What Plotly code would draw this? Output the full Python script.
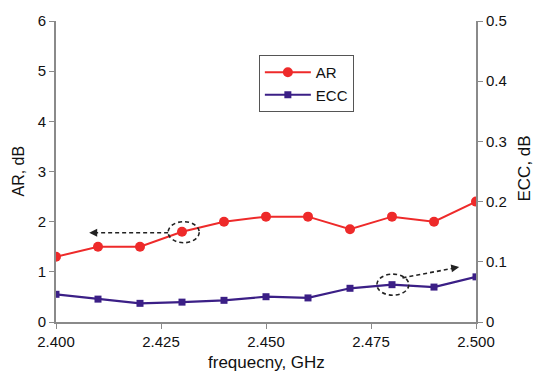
import plotly.graph_objects as go

freq = [2.40, 2.41, 2.42, 2.43, 2.44, 2.45, 2.46, 2.47, 2.48, 2.49, 2.50]
ar_db = [1.3, 1.5, 1.5, 1.8, 2.0, 2.1, 2.1, 1.85, 2.1, 2.0, 2.4]
ecc = [0.046, 0.038, 0.031, 0.033, 0.036, 0.042, 0.040, 0.056, 0.062, 0.058, 0.075]
x_ticks = [2.400, 2.425, 2.450, 2.475, 2.500]
x_tick_labels = ["2.400", "2.425", "2.450", "2.475", "2.500"]

FONT = "Liberation Sans, Arial, sans-serif"
RED = "#ee2a2a"
PURPLE = "#3b1f86"
AXIS = "#8a8a8a"
DASH = "4px,3px"

fig = go.Figure()
fig.add_trace(go.Scatter(x=freq, y=ar_db, name="AR", mode="lines+markers",
                         line=dict(color=RED, width=2),
                         marker=dict(symbol="circle", size=10, color=RED)))
fig.add_trace(go.Scatter(x=freq, y=ecc, name="ECC", mode="lines+markers", yaxis="y2",
                         line=dict(color=PURPLE, width=2.2),
                         marker=dict(symbol="square", size=7, color=PURPLE)))

shapes = [
    dict(type="circle", xref="x", yref="y", x0=2.4267, x1=2.4341, y0=1.58, y1=2.0,
         line=dict(color="#222", width=1.6, dash=DASH)),
    dict(type="line", xref="x", yref="y", x0=2.4267, x1=2.4085, y0=1.78, y1=1.78,
         line=dict(color="#222", width=1.6, dash=DASH)),
    dict(type="circle", xref="x", yref="y2", x0=2.4764, x1=2.4840, y0=0.0445, y1=0.0795,
         line=dict(color="#222", width=1.6, dash=DASH)),
    dict(type="line", xref="x", yref="y2", x0=2.4825, x1=2.4955, y0=0.0733, y1=0.0905,
         line=dict(color="#222", width=1.6, dash=DASH)),
]
annotations = [
    dict(x=2.4079, y=1.78, xref="x", yref="y", ax=8, ay=0, text="", showarrow=True,
         arrowhead=2, arrowsize=1, arrowwidth=1.6, arrowcolor="#222"),
    dict(x=2.4960, y=0.0912, xref="x", yref="y2", ax=-8, ay=1.3, text="", showarrow=True,
         arrowhead=2, arrowsize=1, arrowwidth=1.6, arrowcolor="#222"),
    dict(text="AR, dB", xref="paper", yref="paper", x=0, y=0.5, xshift=-38,
         textangle=-90, showarrow=False, xanchor="center", yanchor="middle",
         font=dict(size=16)),
    dict(text="ECC, dB", xref="paper", yref="paper", x=1, y=0.5, xshift=48, yshift=3,
         textangle=-90, showarrow=False, xanchor="center", yanchor="middle",
         font=dict(size=17)),
    dict(text="frequecny, GHz", xref="paper", yref="paper", x=0.5, y=0, yshift=-40,
         showarrow=False, xanchor="center", yanchor="middle", font=dict(size=17)),
]

fig.update_layout(
    width=533, height=371,
    margin=dict(l=56, r=57, t=21, b=49, autoexpand=False),
    paper_bgcolor="white", plot_bgcolor="white",
    font=dict(family=FONT, size=15, color="#111"),
    showlegend=True,
    legend=dict(x=0.483, y=0.887, xanchor="left", yanchor="top",
                bordercolor="#555", borderwidth=1, bgcolor="white",
                font=dict(size=15), tracegroupgap=0, itemwidth=46),
    xaxis=dict(range=[2.400, 2.500], tickvals=x_ticks, ticktext=x_tick_labels,
               showgrid=False, zeroline=False, showline=True, linecolor=AXIS, linewidth=2,
               ticks="outside", ticklen=5, tickcolor=AXIS, automargin=False),
    yaxis=dict(range=[0, 6], dtick=1, showgrid=False, zeroline=False, showline=True,
               linecolor=AXIS, linewidth=2, ticks="outside", ticklen=5, tickcolor=AXIS,
               automargin=False),
    yaxis2=dict(range=[0, 0.5], dtick=0.1, overlaying="y", side="right",
                showgrid=False, zeroline=False, showline=True, linecolor=AXIS, linewidth=2,
                ticks="outside", ticklen=5, tickcolor=AXIS, automargin=False),
    shapes=shapes,
    annotations=annotations,
)

# remove the default 8px page margin so the 533x371 figure fills the window exactly
fig.write_html("out.html", config={"displayModeBar": False},
               post_script="document.body.style.margin='0';document.body.style.overflow='hidden';")
